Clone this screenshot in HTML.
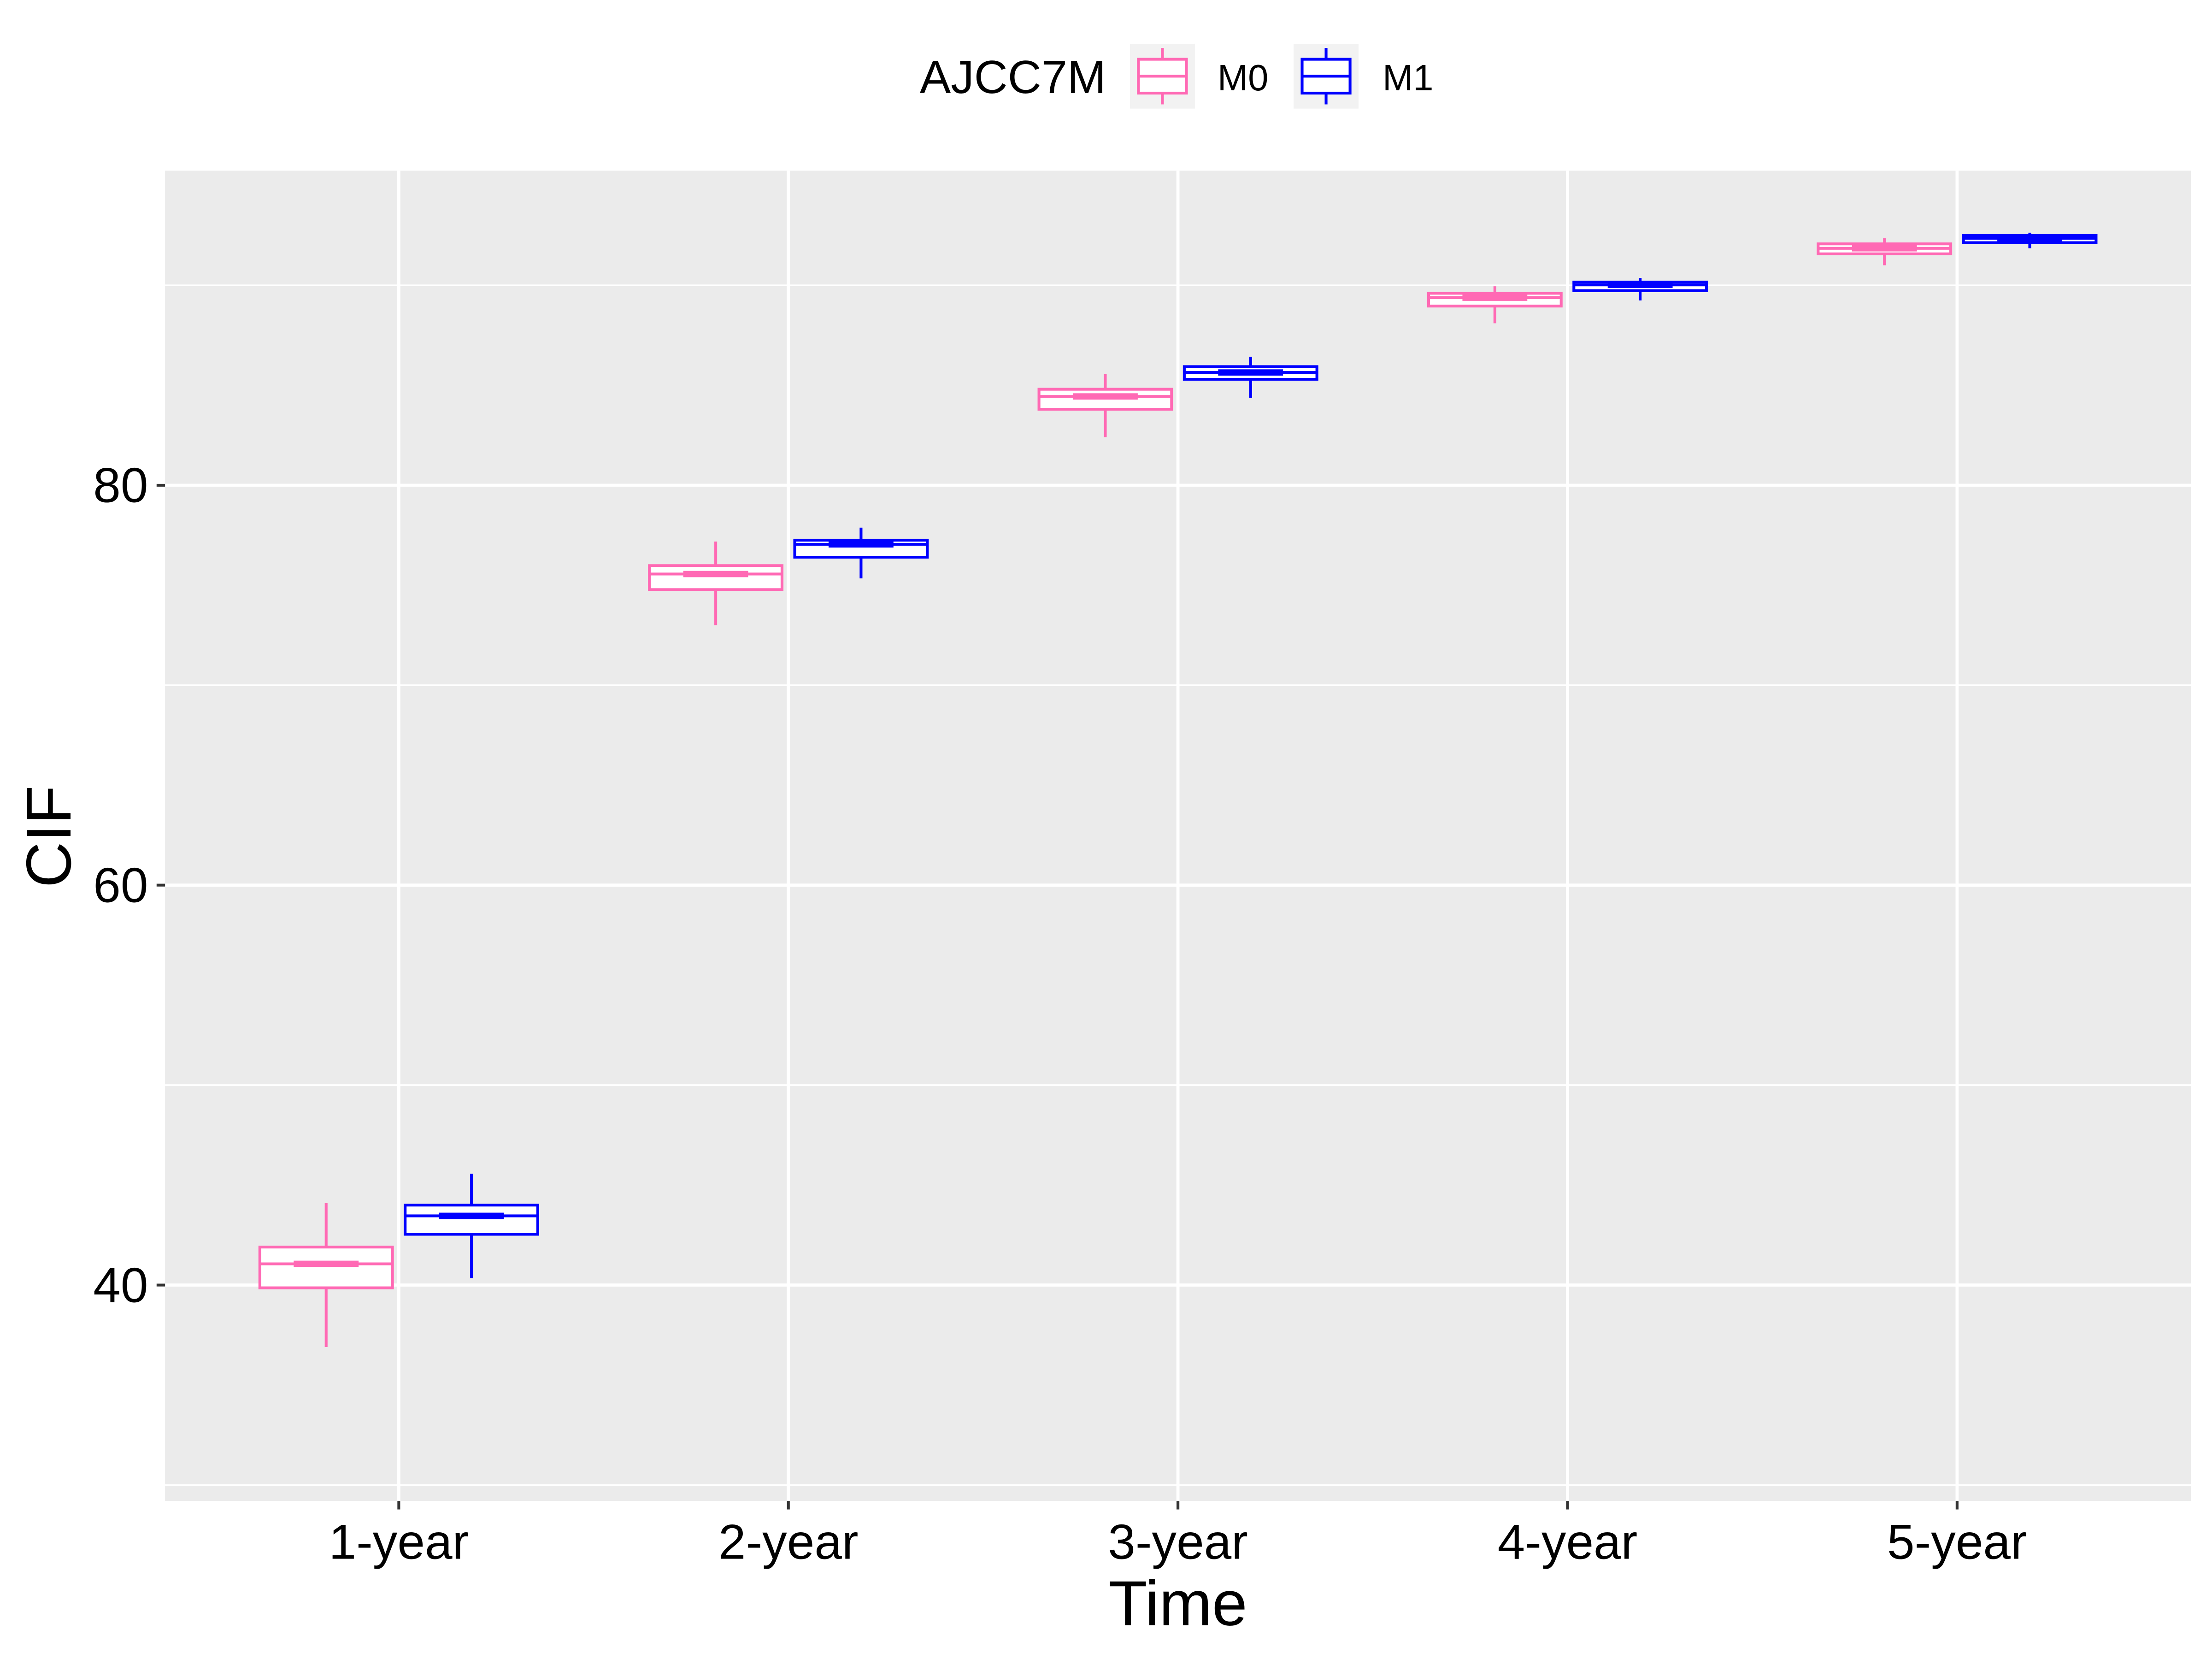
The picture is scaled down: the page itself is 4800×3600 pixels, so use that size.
<!DOCTYPE html>
<html><head><meta charset="utf-8"><style>
html,body{margin:0;padding:0;background:#fff;}
svg{display:block;font-family:"Liberation Sans",Arial,sans-serif;}
</style></head><body>
<svg id="chart" width="4800" height="3600" viewBox="0 0 1568 1176" xmlns="http://www.w3.org/2000/svg">
<rect x="0" y="0" width="1568" height="1176" fill="#fff"/>
<rect x="117" y="121" width="1436" height="943" fill="#EBEBEB"/>
<g id="grid"></g>
<g id="boxes"></g>
<g id="axes"></g>
<text transform="translate(50,593) rotate(-90)" text-anchor="middle" font-size="45" fill="#000">CIF</text>
<text x="835" y="1152" text-anchor="middle" font-size="45" fill="#000">Time</text>
<g>
<text x="652" y="66" font-size="33" fill="#000">AJCC7M</text>
<g>
<rect x="801" y="31" width="46" height="46" fill="#F2F2F2"/>
<line x1="824" y1="34" x2="824" y2="74" stroke="#FF69B4" stroke-width="2"/>
<rect x="807" y="42" width="34" height="24" fill="#fff" stroke="#FF69B4" stroke-width="2"/>
<line x1="807" y1="54" x2="841" y2="54" stroke="#FF69B4" stroke-width="2"/>
<text x="863" y="64" font-size="26" fill="#000">M0</text>
</g>
<g>
<rect x="917" y="31" width="46" height="46" fill="#F2F2F2"/>
<line x1="940" y1="34" x2="940" y2="74" stroke="#0000FF" stroke-width="2"/>
<rect x="923" y="42" width="34" height="24" fill="#fff" stroke="#0000FF" stroke-width="2"/>
<line x1="923" y1="54" x2="957" y2="54" stroke="#0000FF" stroke-width="2"/>
<text x="980" y="64" font-size="26" fill="#000">M1</text>
</g>
</g>
</svg>
<script>
const categories=["1-year","2-year","3-year","4-year","5-year"];
const yTicks=[40,60,80];
const yMinor=[30,50,70,90];
// [whiskerLow, q1, median, q3, whiskerHigh]
const m0Values=[[36.9,39.86,41.06,41.9,44.1],[73.0,74.78,75.56,75.98,77.18],[82.4,83.8,84.44,84.8,85.57],[88.1,88.96,89.38,89.6,89.95],[91.0,91.57,91.85,92.07,92.35]];
const m1Values=[[40.35,42.54,43.46,44.0,45.57],[75.34,76.4,77.04,77.25,77.88],[84.37,85.3,85.64,85.93,86.42],[89.24,89.73,90.02,90.16,90.37],[91.85,92.13,92.35,92.49,92.63]];

const NS="http://www.w3.org/2000/svg";
const px0=117,px1=1553,py0=121,py1=1064;
const yMin=29.2,yMax=95.73;
function yS(v){return py1-(v-yMin)/(yMax-yMin)*(py1-py0);}
function xS(i){return px0+(px1-px0)*(i+0.6)/(categories.length+0.2);}
function mk(tag,attrs,parent){const e=document.createElementNS(NS,tag);for(const k in attrs)e.setAttribute(k,attrs[k]);parent.appendChild(e);return e;}
const grid=document.getElementById('grid'),boxes=document.getElementById('boxes'),axes=document.getElementById('axes');
yMinor.forEach(v=>{const l=mk('line',{x1:px0,x2:px1,y1:yS(v),y2:yS(v),stroke:'#fff','stroke-width':1.1},grid);

});
yTicks.forEach(v=>{const l=mk('line',{x1:px0,x2:px1,y1:yS(v),y2:yS(v),stroke:'#fff','stroke-width':2.2},grid);


const t=mk('line',{x1:px0-6,x2:px0,y1:yS(v),y2:yS(v),stroke:'#333','stroke-width':2},axes);


const tx=mk('text',{x:px0-12,y:yS(v)+12,'text-anchor':'end','font-size':35,fill:'#000'},axes);tx.textContent=v;

});
categories.forEach((c,i)=>{const x=xS(i);
const l=mk('line',{x1:x,x2:x,y1:py0,y2:py1,stroke:'#fff','stroke-width':2.2},grid);


const t=mk('line',{x1:x,x2:x,y1:py1,y2:py1+6,stroke:'#333','stroke-width':2},axes);


const tx=mk('text',{x:x,y:py1+41,'text-anchor':'middle','font-size':35,fill:'#000'},axes);tx.textContent=c;

});
const bw=94,off=51.5;
function drawBox(vals,i,dir,color,name){const cx=xS(i)+dir*off;
const g=mk('g',{},boxes);


mk('line',{x1:cx,x2:cx,y1:yS(vals[0]),y2:yS(vals[1]),stroke:color,'stroke-width':2},g);
mk('line',{x1:cx,x2:cx,y1:yS(vals[3]),y2:yS(vals[4]),stroke:color,'stroke-width':2},g);
mk('rect',{x:cx-bw/2,y:yS(vals[3]),width:bw,height:Math.max(yS(vals[1])-yS(vals[3]),1),fill:'#fff',stroke:color,'stroke-width':2},g);
mk('line',{x1:cx-bw/2,x2:cx+bw/2,y1:yS(vals[2]),y2:yS(vals[2]),stroke:color,'stroke-width':2},g);
mk('line',{x1:cx-23,x2:cx+23,y1:yS(vals[2]),y2:yS(vals[2]),stroke:color,'stroke-width':4.5},g);}
m0Values.forEach((v,i)=>drawBox(v,i,-1,'#FF69B4','m0'));
m1Values.forEach((v,i)=>drawBox(v,i,1,'#0000FF','m1'));
</script>
</body></html>
